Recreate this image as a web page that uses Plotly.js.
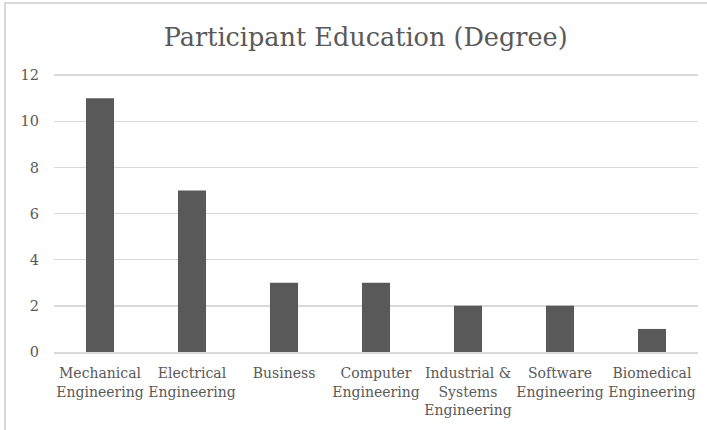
<!DOCTYPE html>
<html>
<head>
<meta charset="utf-8">
<script src="https://cdn.plot.ly/plotly-3.0.1.min.js"></script>
<style>
  html, body { margin: 0; padding: 0; background: #ffffff; }
  #frame { position: absolute; left: 4px; top: 2px; width: 703px; height: 428px;
           border-left: 2px solid #d9d9d9; border-top: 2px solid #d9d9d9; box-sizing: border-box; }
  #chart { position: absolute; left: 0; top: 0; width: 707px; height: 430px; }
</style>
</head>
<body>
<div id="frame"></div>
<div id="chart"></div>
<script>
const categories = [
  "Mechanical<br>Engineering",
  "Electrical<br>Engineering",
  "Business",
  "Computer<br>Engineering",
  "Industrial &amp;<br>Systems<br>Engineering",
  "Software<br>Engineering",
  "Biomedical<br>Engineering"
];
const counts = [11, 7, 3, 3, 2, 2, 1];
const yTicks = [0, 2, 4, 6, 8, 10, 12];
const titleText = "Participant Education (Degree)";

const fontFamily = "'DejaVu Serif', 'Liberation Serif', serif";
const gray = "#595959";

Plotly.newPlot("chart", [{
  type: "bar",
  x: categories,
  y: counts,
  marker: { color: "#595959" },
  hoverinfo: "none"
}], {
  width: 707,
  height: 430,
  paper_bgcolor: "rgba(0,0,0,0)",
  plot_bgcolor: "rgba(0,0,0,0)",
  margin: { l: 54, r: 9, t: 74, b: 78 },
  bargap: 0.695,
  showlegend: false,
  title: {
    text: titleText,
    font: { family: fontFamily, size: 25.5, color: gray },
    x: 0.484, xref: "paper", xanchor: "center",
    y: 41, yref: "container", yanchor: "middle"
  },
  xaxis: {
    showgrid: false,
    showline: true,
    linecolor: "#d9d9d9",
    linewidth: 1.5,
    ticks: "",
    tickangle: 0,
    ticklabelstandoff: 8,
    tickfont: { family: fontFamily, size: 14, color: gray },
    fixedrange: true
  },
  yaxis: {
    range: [0, 12.05],
    tickvals: yTicks,
    ticktext: yTicks.map(String),
    showgrid: true,
    gridcolor: "#d9d9d9",
    gridwidth: 1.5,
    zeroline: false,
    showline: false,
    ticks: "",
    ticklabelstandoff: 14,
    tickfont: { family: fontFamily, size: 14.5, color: gray },
    fixedrange: true
  }
}, { displayModeBar: false, staticPlot: true });
</script>
</body>
</html>
